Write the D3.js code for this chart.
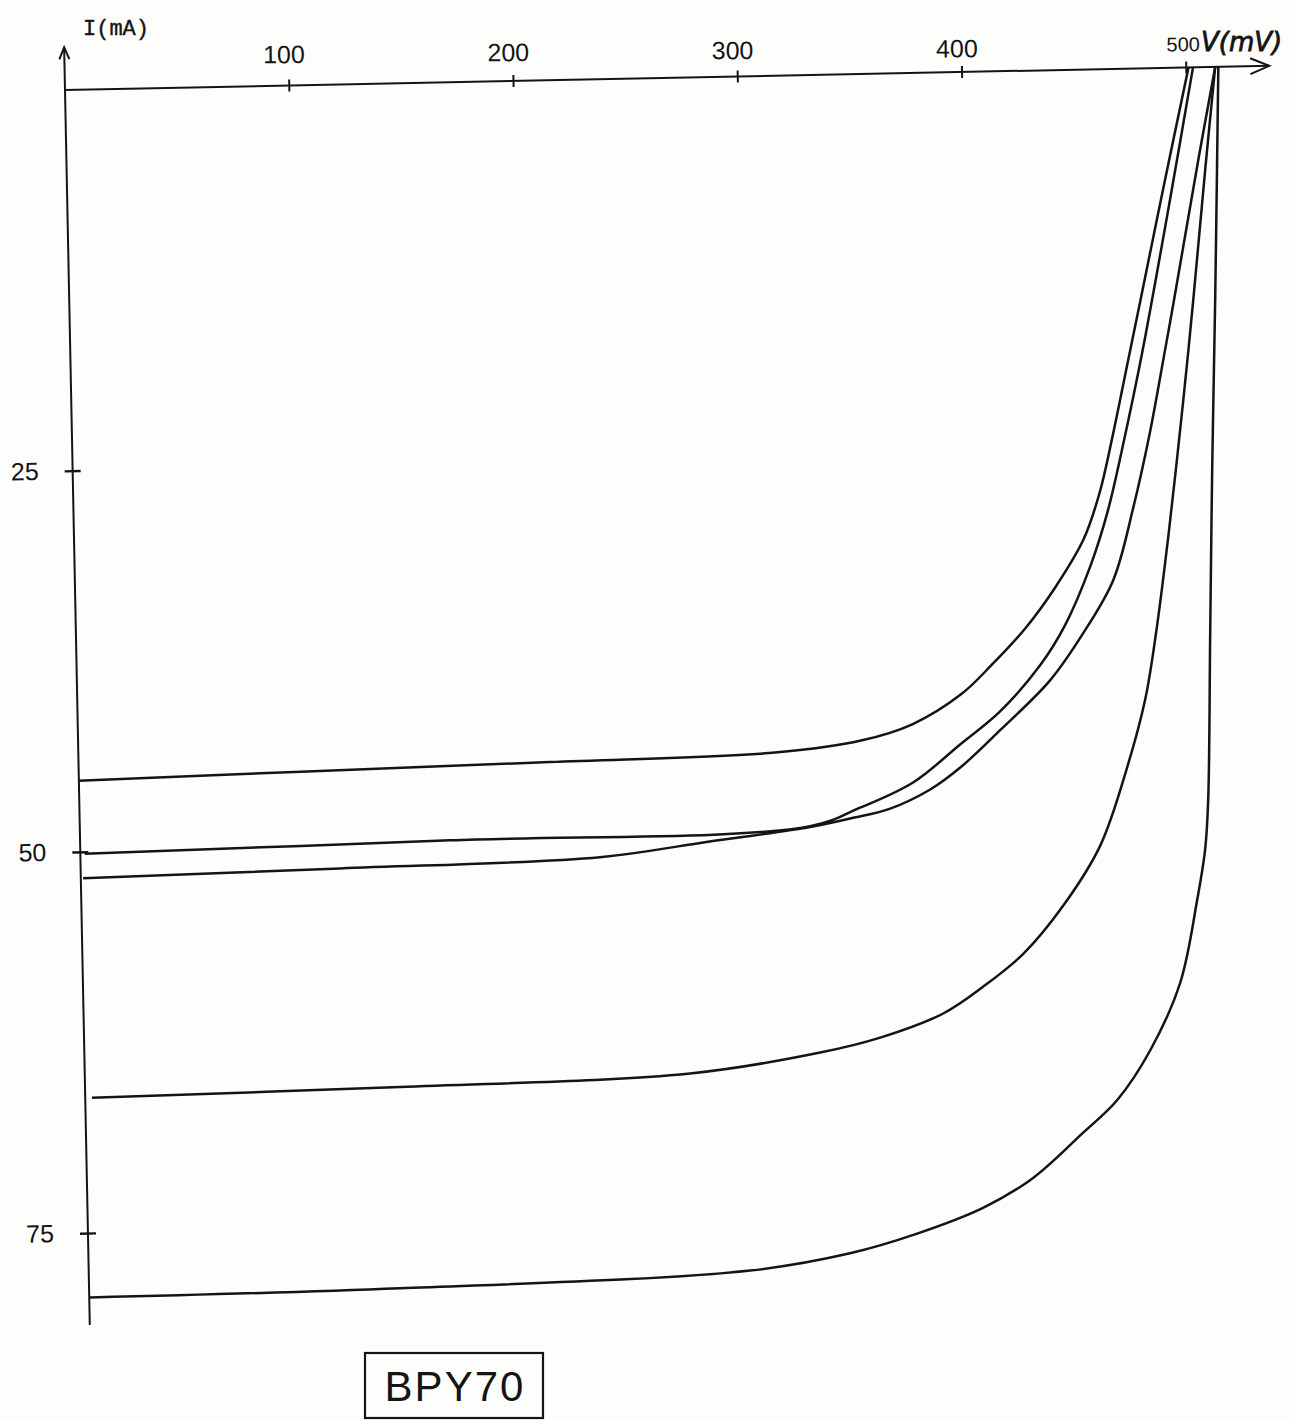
<!DOCTYPE html>
<html>
<head>
<meta charset="utf-8">
<script src="https://cdn.jsdelivr.net/npm/d3@7"></script>
<style>
  body { margin: 0; background: #fdfdfb; }
</style>
</head>
<body>
<div id="chart"></div>
<script>
// ---------------------- values (V in mV, I in mA) ----------------------
var xTicks = [100, 200, 300, 400, 500];
var yTicks = [25, 50, 75];

var curveA_V = [0, 99, 210, 313, 349, 372, 394, 408, 423, 437, 450, 457.5, 463.5, 471.5, 477.5, 488.5, 501];
var curveA_I = [45.3, 45.0, 44.7, 44.35, 43.7, 42.7, 40.8, 38.9, 36.6, 33.9, 30.8, 27.8, 24.3, 19.1, 15.2, 8.0, 0];

var curveB_V = [2, 165, 325.5, 348, 372, 393, 411, 429.5, 441, 452.7, 461, 469.5, 478, 491.5, 503];
var curveB_I = [50.1, 49.7, 49.25, 48.1, 46.5, 44.1, 42.0, 39.0, 36.4, 32.6, 29.0, 24.0, 18.5, 8.7, 0];

var curveC_V = [1, 115.6, 231.6, 276.4, 325.5, 343.5, 361.4, 379.4, 393, 411.1, 433.8, 449, 462.9, 472.5, 480.5, 488, 492.5, 504.5, 512.9];
var curveC_I = [51.7, 51.4, 51.0, 50.2, 49.3, 48.8, 48.2, 47.0, 45.6, 43.2, 40.0, 36.95, 33.5, 28.75, 23.9, 18.5, 15.2, 6.1, 0];

var curveD_V = [3, 140.4, 269.8, 328, 354.9, 383.2, 401.2, 419.4, 437.6, 454.7, 467.4, 476, 481.5, 488, 495.7, 501, 507.5, 512.9];
var curveD_I = [66.1, 65.8, 65.3, 64.1, 63.2, 61.7, 60.0, 57.9, 54.8, 50.9, 45.8, 41.4, 37.0, 30.5, 21.8, 15.3, 6.75, 0];

var curveE_V = [0.3, 138.6, 294.8, 339.5, 369.6, 399.2, 421.8, 444.5, 460, 475.1, 489.1, 497.4, 501.4, 503.2, 505.6, 508, 510.8, 514.3];
var curveE_I = [79.2, 79.0, 78.3, 77.3, 76.1, 74.5, 72.6, 69.7, 67.6, 64.4, 60.0, 54.6, 51.3, 48.1, 37.1, 26.2, 15.3, 0];

var curves = [
  [curveA_V, curveA_I],
  [curveB_V, curveB_I],
  [curveC_V, curveC_I],
  [curveD_V, curveD_I],
  [curveE_V, curveE_I]
];

// ---------------------- the sheet ----------------------
var svg = d3.select("#chart")
     .append("svg")
     .attr("width", 1295)
     .attr("height", 1420)
     .style("background", "#fdfdfb");

var ink = "#141414";

var x = d3.scaleLinear().domain([0, 500]).range([0, 1121.5]);
var y = d3.scaleLinear().domain([0, 80]).range([0, 1220]);

// the scanned sheet is a little skewed
var g = svg.append("g")
     .attr("transform", "translate(65,90) rotate(-1.15)");

// ---------------------- axes ----------------------
var xEnd = x(537);
g.append("line")
     .attr("x1", x(0)).attr("y1", 0)
     .attr("x2", xEnd).attr("y2", 0)
     .attr("stroke", ink).attr("stroke-width", 2);
g.append("path")
     .attr("d", "M" + (xEnd - 19) + "," + (-8) + "L" + xEnd + ",0L" + (xEnd - 19) + ",8")
     .attr("fill", "none").attr("stroke", ink).attr("stroke-width", 2);

var yTop = y(-2.8), yBot = y(81);
g.append("line")
     .attr("x1", 0).attr("y1", yTop)
     .attr("x2", 0).attr("y2", yBot)
     .attr("stroke", ink).attr("stroke-width", 2);
g.append("path")
     .attr("d", "M-5," + (yTop + 12) + "L0," + yTop + "L5," + (yTop + 12))
     .attr("fill", "none").attr("stroke", ink).attr("stroke-width", 2);

g.selectAll(".xtick")
     .data(xTicks)
     .enter()
     .append("line")
     .attr("class", "xtick")
     .attr("x1", function(d) { return x(d); })
     .attr("x2", function(d) { return x(d); })
     .attr("y1", -6).attr("y2", 6)
     .attr("stroke", ink).attr("stroke-width", 2);

g.selectAll(".ytick")
     .data(yTicks)
     .enter()
     .append("line")
     .attr("class", "ytick")
     .attr("x1", -8).attr("x2", 8)
     .attr("y1", function(d) { return y(d); })
     .attr("y2", function(d) { return y(d); })
     .attr("stroke", ink).attr("stroke-width", 2.4);

g.selectAll(".ylab")
     .data(yTicks)
     .enter()
     .append("text")
     .attr("class", "ylab")
     .text(function(d) { return d; })
     .attr("x", -34)
     .attr("y", function(d) { return y(d) + 8; })
     .attr("text-anchor", "end")
     .style("font-family", "Liberation Sans, Arial, sans-serif")
     .style("font-size", "25px")
     .attr("fill", ink);

// tick labels on the top axis sit a bit less skewed than the axis line
var gl = svg.append("g")
     .attr("transform", "translate(65,90) rotate(-0.5)");
gl.selectAll(".xlab")
     .data(xTicks)
     .enter()
     .append("text")
     .attr("class", "xlab")
     .text(function(d) { return d; })
     .attr("x", function(d) { return x(d) - (d === 500 ? 3 : 5); })
     .attr("y", function(d) { return d === 500 ? -29 : -25; })
     .attr("text-anchor", "middle")
     .style("font-family", "Liberation Sans, Arial, sans-serif")
     .style("font-size", function(d) { return d === 500 ? "20px" : "25px"; })
     .attr("fill", ink);

// ---------------------- curves ----------------------
var line = d3.line()
     .x(function(d) { return x(d[0]); })
     .y(function(d) { return y(d[1]); })
     .curve(d3.curveCatmullRom.alpha(0.5));

g.selectAll(".curve")
     .data(curves)
     .enter()
     .append("path")
     .attr("class", "curve")
     .attr("d", function(c) { return line(d3.zip(c[0], c[1])); })
     .attr("fill", "none")
     .attr("stroke", ink)
     .attr("stroke-width", 2.5)
     .attr("stroke-linejoin", "round");

// ---------------------- axis titles and the device label ----------------------
svg.append("text")
     .text("I(mA)")
     .attr("x", 83).attr("y", 35)
     .style("font-family", "Liberation Mono, DejaVu Sans Mono, monospace")
     .style("font-size", "22px")
     .attr("fill", ink)
     .attr("stroke", ink).attr("stroke-width", 0.4);

svg.append("text")
     .text("V(mV)")
     .attr("x", 1201).attr("y", 51)
     .style("font-family", "DejaVu Sans, sans-serif")
     .style("font-size", "26px")
     .style("font-style", "italic")
     .attr("fill", ink)
     .attr("stroke", ink).attr("stroke-width", 0.8);

svg.append("rect")
     .attr("x", 365).attr("y", 1353)
     .attr("width", 178).attr("height", 65)
     .attr("fill", "none")
     .attr("stroke", ink).attr("stroke-width", 2.2);

svg.append("text")
     .text("BPY70")
     .attr("x", 455).attr("y", 1401)
     .attr("text-anchor", "middle")
     .style("font-family", "Liberation Sans, Arial, sans-serif")
     .style("font-size", "42px")
     .style("letter-spacing", "2px")
     .attr("fill", ink);
</script>
</body>
</html>
